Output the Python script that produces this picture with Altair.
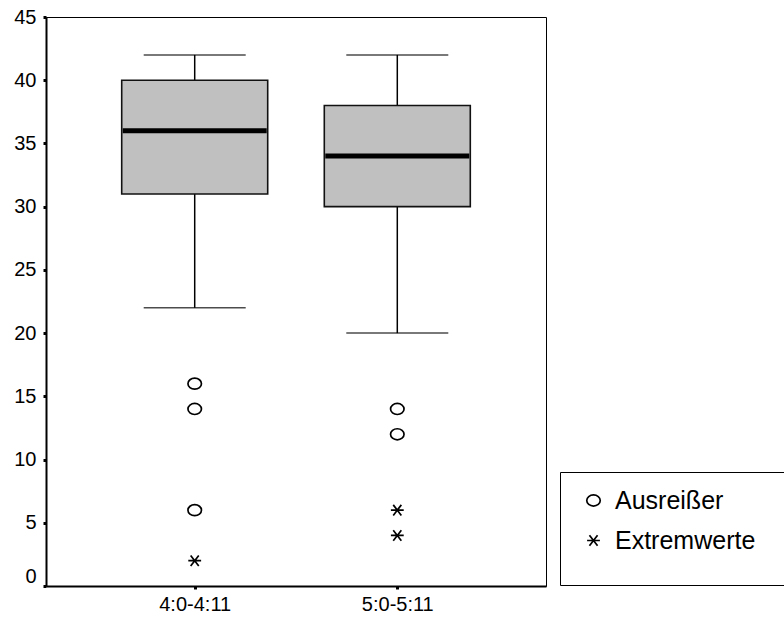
import altair as alt
import pandas as pd

# Age groups and box statistics
groups = ["4:0-4:11", "5:0-5:11"]
whisker_low = [22, 20]
q1 = [31, 30]
median = [36, 34]
q3 = [40, 38]
whisker_high = [42, 42]

# Outliers (circles) and extreme values (asterisks)
outlier_group = ["4:0-4:11", "4:0-4:11", "4:0-4:11", "5:0-5:11", "5:0-5:11"]
outlier_value = [16, 14, 6, 14, 12]
extreme_group = ["4:0-4:11", "5:0-5:11", "5:0-5:11"]
extreme_value = [2, 6, 4]

kinds = ["Ausreißer", "Extremwerte"]
y_ticks = [0, 5, 10, 15, 20, 25, 30, 35, 40, 45]

box_df = pd.DataFrame({
    "group": groups, "lo": whisker_low, "q1": q1,
    "med": median, "q3": q3, "hi": whisker_high,
})
pts_df = pd.DataFrame({
    "group": outlier_group + extreme_group,
    "value": outlier_value + extreme_value,
    "kind": [kinds[0]] * len(outlier_value) + [kinds[1]] * len(extreme_value),
})

FONT = "Liberation Sans"

x_enc = alt.X(
    "group:N", sort=groups, title=None,
    scale=alt.Scale(type="point", padding=0.734),
    axis=alt.Axis(labelAngle=0, labelPadding=5, labelFontSize=20),
)
y_axis = alt.Axis(
    values=y_ticks, grid=False, title=None, labelPadding=7, labelFontSize=20,
    labelBaseline={"condition": {"test": "datum.value == 0", "value": "bottom"},
                   "value": "middle"},
)
y_scale = alt.Scale(domain=[0, 45], nice=False, zero=True)


def y(field):
    return alt.Y(field, scale=y_scale, axis=y_axis, title=None)


base = alt.Chart(box_df).encode(x=x_enc)

lower_whisker = base.mark_rule(color="black", strokeWidth=1.5).encode(
    y=y("lo:Q"), y2="q1:Q")
upper_whisker = base.mark_rule(color="black", strokeWidth=1.5).encode(
    y=y("q3:Q"), y2="hi:Q")
lower_cap = base.mark_tick(color="black", size=102, thickness=1.5).encode(y=y("lo:Q"))
upper_cap = base.mark_tick(color="black", size=102, thickness=1.5).encode(y=y("hi:Q"))
box = base.mark_bar(size=146, fill="#c0c0c0", stroke="#111111",
                    strokeWidth=1.6).encode(y=y("q1:Q"), y2="q3:Q")
med_line = base.mark_tick(color="black", size=144, thickness=5,
                          opacity=1).encode(y=y("med:Q"))

ellipse = "M-1,0A1,0.82,0,1,0,1,0A1,0.82,0,1,0,-1,0Z"
asterisk = "M-0.95,0L0.95,0M-0.6,-0.78L0.6,0.78M-0.6,0.78L0.6,-0.78"

# blank (braille-blank) bottom title: widens and pads the legend frame
legend_spacer = "\u2800" * 21

points = alt.Chart(pts_df).mark_point(
    filled=False, color="black", strokeWidth=1.7, size=182, opacity=1
).encode(
    x=x_enc,
    y=y("value:Q"),
    shape=alt.Shape(
        "kind:N",
        scale=alt.Scale(domain=kinds, range=[ellipse, asterisk]),
        legend=alt.Legend(
            orient="none", legendX=514, legendY=455,
            title=legend_spacer, titleOrient="bottom", titleFontSize=12,
            titleFont="DejaVu Sans", titleColor="white",
            titlePadding=4, titleLimit=1000,
            strokeColor="black", fillColor="white", padding=16,
            labelFont=FONT, labelFontSize=25, labelColor="black",
            labelOffset=9, rowPadding=14, labelLimit=400, symbolOffset=5,
            symbolSize=182, symbolStrokeWidth=1.7, symbolStrokeColor="black",
        ),
    ),
)

chart = alt.layer(
    lower_whisker, upper_whisker, lower_cap, upper_cap, box, med_line, points
).properties(
    width=500, height=569, autosize="none",
    padding={"left": 46, "top": 17, "right": 238, "bottom": 32},
    background="white",
).configure_view(
    stroke="black", strokeWidth=1
).configure_axis(
    labelFont=FONT, labelColor="black", tickColor="black", tickSize=3,
    tickWidth=3, domainColor="black", domainWidth=2,
)

chart.save("out.html", embed_options={"renderer": "svg", "actions": False})
